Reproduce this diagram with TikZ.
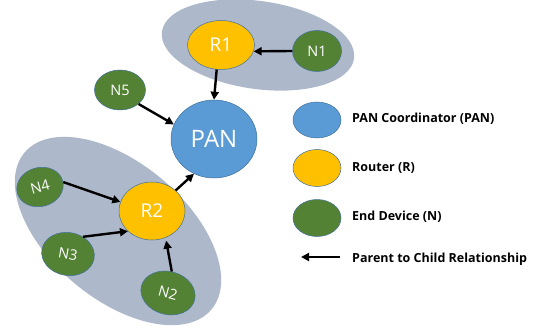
\documentclass[tikz,border=0pt]{standalone}
\usepackage{fontspec}
\setmainfont{Open Sans}
\usetikzlibrary{shapes.geometric,arrows.meta}
\definecolor{groupgray}{HTML}{ADB9CA}
\definecolor{panblue}{HTML}{5B9BD5}
\definecolor{routeryellow}{HTML}{FFC000}
\definecolor{devgreen}{HTML}{548235}
\definecolor{edgeblue}{HTML}{41719C}
\begin{document}
\begin{tikzpicture}[x=1pt,y=1pt,
  dev/.style={ellipse, draw=edgeblue, line width=0.5pt, inner sep=0pt, text=white},
  pan/.style={dev, fill=panblue, minimum width=86pt, minimum height=78pt, font=\fontsize{24}{24}\selectfont},
  router/.style={dev, fill=routeryellow, font=\fontsize{19}{19}\selectfont},
  enddev/.style={dev, fill=devgreen, font=\fontsize{14.5}{15}\selectfont},
  link/.style={-{Triangle[length=8pt,width=8pt]}, line width=2.4pt},
  legendtext/.style={anchor=west, inner sep=0pt, font=\bfseries\fontsize{12.5}{13}\selectfont, text=black}
]
\useasboundingbox (0,0) rectangle (535,-326);

% cluster backgrounds
\fill[groupgray, rotate around={-8:(258,-45)}] (258,-45) ellipse [x radius=97, y radius=44];
\fill[groupgray, rotate around={-40:(118,-231)}] (118,-231) ellipse [x radius=122, y radius=68];

% network nodes
\node[pan] (pan) at (214,-139) {PAN};
\node[router, minimum width=67pt, minimum height=49pt] (r1) at (221,-45) {R1};
\node[router, minimum width=66pt, minimum height=58pt] (r2) at (152,-211) {R2};
\node[enddev, minimum width=49pt, minimum height=41pt] (n1) at (317,-51) {N1};
\node[enddev, minimum width=51pt, minimum height=40pt] (n5) at (120,-90) {N5};
\node[enddev, minimum width=47pt, minimum height=39pt, rotate=15] (n4) at (40,-187) {N4};
\node[enddev, minimum width=53pt, minimum height=43pt, rotate=-10] (n3) at (68,-254) {N3};
\node[enddev, minimum width=55pt, minimum height=43pt, rotate=-15] (n2) at (168,-293) {N2};

% parent-to-child links
\draw[link] (n1.west) -- (r1.-11);
\draw[link] (r1.-100) -- (pan.north);
\draw[link] (n5.-37) -- (pan.160);
\draw[link] (r2.41) -- (pan.240);
\draw[link] (n4.-3) -- (r2.164);
\draw[link] (n3.59) -- (r2.220);
\draw[link, shorten >=3pt] (n2.95) -- (r2.-63);

% legend
\node[dev, fill=panblue, minimum width=48pt, minimum height=36pt] (lpan) at (317,-120) {};
\node[dev, fill=routeryellow, minimum width=48pt, minimum height=37pt] (lrouter) at (317,-168) {};
\node[dev, fill=devgreen, minimum width=48pt, minimum height=37pt] (ldev) at (317,-218) {};
\coordinate (larrowA) at (340,-257);
\coordinate (larrowB) at (301,-257);
\draw[link] (larrowA) -- (larrowB);

\node[legendtext] (tpan) at (352,-119) {PAN Coordinator (PAN)};
\node[legendtext] (trouter) at (352,-168) {Router (R)};
\node[legendtext] (tdev) at (352,-217) {End Device (N)};
\node[legendtext] (tlink) at (352,-259) {Parent to Child Relationship};
\end{tikzpicture}
\end{document}
